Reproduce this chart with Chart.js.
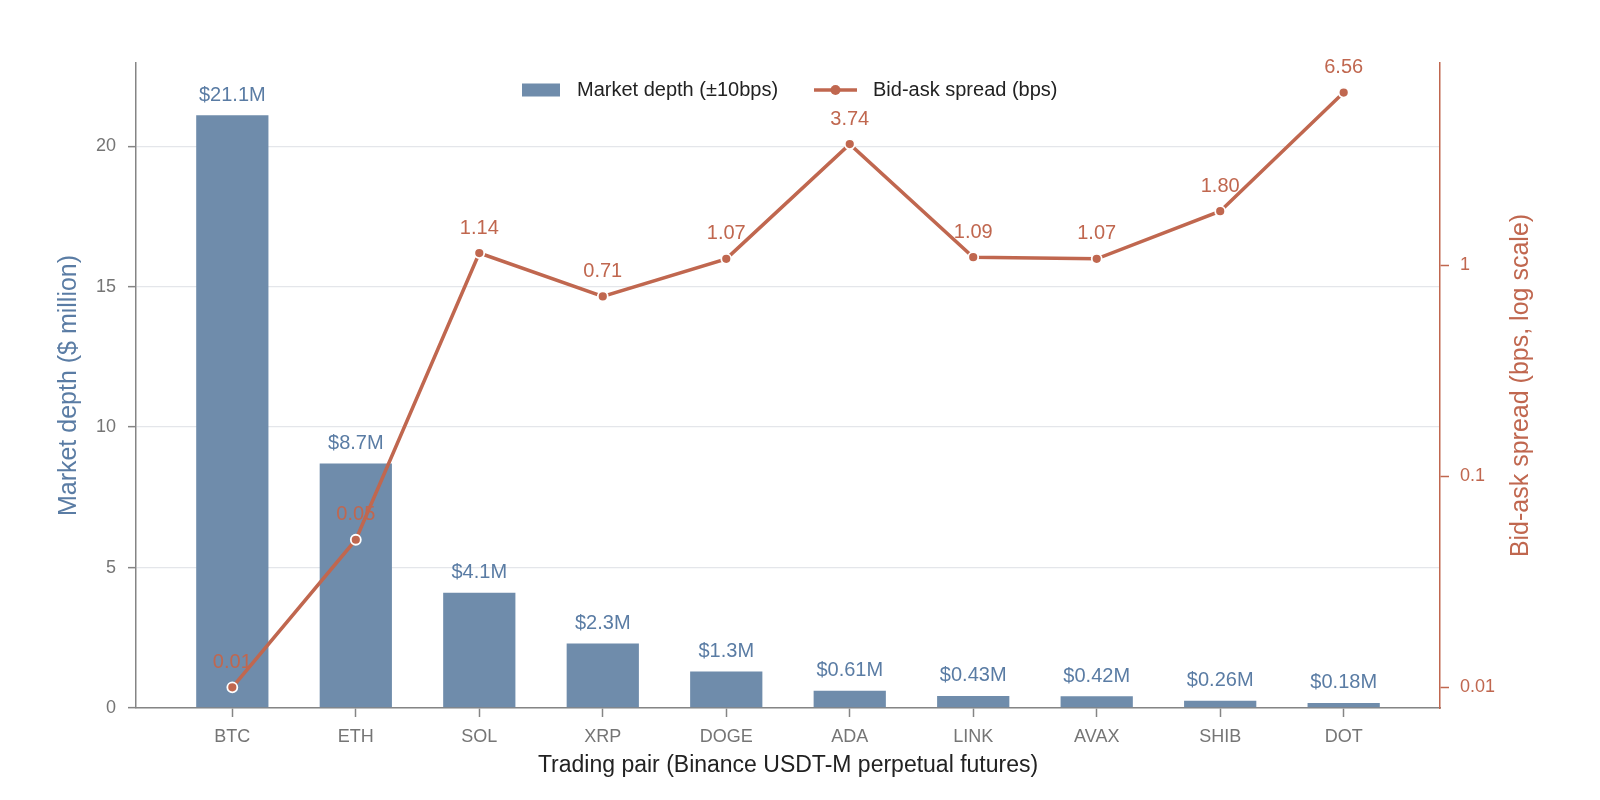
<!DOCTYPE html>
<html>
<head>
<meta charset="utf-8">
<script src="https://cdn.jsdelivr.net/npm/chart.js@4.4.1/dist/chart.umd.min.js"></script>
<style>
  html, body { margin: 0; padding: 0; background: #ffffff; }
  #wrap { width: 1600px; height: 800px; }
</style>
</head>
<body>
<div id="wrap"><canvas id="c" width="1600" height="800"></canvas></div>
<script>
// ---- data ----
const pairs = ['BTC', 'ETH', 'SOL', 'XRP', 'DOGE', 'ADA', 'LINK', 'AVAX', 'SHIB', 'DOT'];
const depthMillions = [21.1, 8.7, 4.1, 2.3, 1.3, 0.61, 0.43, 0.42, 0.26, 0.18];
const spreadBps = [0.01, 0.05, 1.14, 0.71, 1.07, 3.74, 1.09, 1.07, 1.80, 6.56];
const depthTicks = [0, 5, 10, 15, 20];
const spreadTicks = [0.01, 0.1, 1];
const depthLabel = 'Market depth (\u00B110bps)';
const spreadLabel = 'Bid-ask spread (bps)';
const xTitle = 'Trading pair (Binance USDT-M perpetual futures)';
const yTitle = 'Market depth ($ million)';
const y1Title = 'Bid-ask spread (bps, log scale)';

// ---- style ----
const FONT = "'Liberation Sans', Arial, Helvetica, sans-serif";
const BAR_COLOR = '#6f8cab';
const BAR_TEXT = '#5a7ca4';
const LINE_COLOR = '#c0674f';
const AXIS_GREY = '#858585';
const TICK_TEXT = '#757575';

Chart.defaults.font.family = FONT;

const fmtDepth = v => '$' + (v >= 1 ? v.toFixed(1) : v.toFixed(2)) + 'M';
const fmtSpread = v => v.toFixed(2);

const labelsPlugin = {
  id: 'valueLabels',
  beforeDatasetDraw(chart, args) {
    const ds = chart.data.datasets[args.index];
    if (ds.type !== 'line') return;
    const ctx = chart.ctx;
    ctx.save();
    ctx.textAlign = 'center';
    ctx.textBaseline = 'middle';
    ctx.font = '20px ' + FONT;
    const barMeta = chart.getDatasetMeta(1);
    barMeta.data.forEach((el, i) => {
      ctx.fillStyle = BAR_TEXT;
      ctx.fillText(fmtDepth(depthMillions[i]), el.x, el.y - 20);
    });
    const lineMeta = chart.getDatasetMeta(0);
    lineMeta.data.forEach((el, i) => {
      ctx.fillStyle = LINE_COLOR;
      ctx.fillText(fmtSpread(spreadBps[i]), el.x, el.y - 25);
    });
    ctx.restore();
  }
};

const decorPlugin = {
  id: 'decor',
  afterDraw(chart) {
    const ctx = chart.ctx;
    const a = chart.chartArea;
    ctx.save();
    ctx.textBaseline = 'middle';
    ctx.textAlign = 'left';
    ctx.font = '20px ' + FONT;
    const ly = 90;
    ctx.fillStyle = BAR_COLOR;
    ctx.fillRect(522, ly - 6.5, 38, 13);
    ctx.fillStyle = '#222222';
    ctx.fillText(depthLabel, 577, ly);
    ctx.strokeStyle = LINE_COLOR;
    ctx.lineWidth = 3.5;
    ctx.beginPath();
    ctx.moveTo(814, ly);
    ctx.lineTo(857, ly);
    ctx.stroke();
    ctx.fillStyle = LINE_COLOR;
    ctx.beginPath();
    ctx.arc(835.5, ly, 5, 0, Math.PI * 2);
    ctx.fill();
    ctx.fillStyle = '#222222';
    ctx.fillText(spreadLabel, 873, ly);

    ctx.textAlign = 'center';
    ctx.font = '23px ' + FONT;
    ctx.fillStyle = '#222222';
    ctx.fillText(xTitle, (a.left + a.right) / 2, 766);

    const cy = (a.top + a.bottom) / 2;
    ctx.font = '25px ' + FONT;
    ctx.save();
    ctx.translate(69, cy);
    ctx.rotate(-Math.PI / 2);
    ctx.fillStyle = BAR_TEXT;
    ctx.fillText(yTitle, 0, 0);
    ctx.restore();
    ctx.save();
    ctx.translate(1521, cy);
    ctx.rotate(-Math.PI / 2);
    ctx.fillStyle = LINE_COLOR;
    ctx.fillText(y1Title, 0, 0);
    ctx.restore();
    ctx.restore();
  }
};

new Chart(document.getElementById('c'), {
  type: 'bar',
  data: {
    datasets: [
      {
        type: 'line',
        label: spreadLabel,
        data: pairs.map((p, i) => ({ x: i, y: spreadBps[i] })),
        yAxisID: 'y1',
        xAxisID: 'x',
        borderColor: LINE_COLOR,
        backgroundColor: LINE_COLOR,
        borderWidth: 3.5,
        pointRadius: 5,
        pointBackgroundColor: LINE_COLOR,
        pointBorderColor: '#ffffff',
        pointBorderWidth: 1.8,
        tension: 0,
        order: 0
      },
      {
        type: 'bar',
        label: depthLabel,
        data: pairs.map((p, i) => ({ x: i, y: depthMillions[i] })),
        yAxisID: 'y',
        xAxisID: 'x',
        backgroundColor: BAR_COLOR,
        borderWidth: 0,
        barPercentage: 0.585,
        categoryPercentage: 1.0,
        order: 1
      }
    ]
  },
  options: {
    responsive: false,
    animation: false,
    devicePixelRatio: 1,
    layout: { padding: { top: 63, left: 0, right: 0, bottom: 0 } },
    plugins: {
      legend: { display: false },
      tooltip: { enabled: false },
      title: { display: false }
    },
    scales: {
      x: {
        type: 'linear',
        position: 'bottom',
        min: -0.78,
        max: 9.78,
        offset: false,
        z: 1,
        afterBuildTicks(axis) { axis.ticks = pairs.map((p, i) => ({ value: i })); },
        afterFit(axis) { axis.height = 92; },
        ticks: {
          callback: (v) => pairs[v] !== undefined ? pairs[v] : '',
          color: TICK_TEXT,
          font: { size: 18, family: FONT },
          padding: 9,
          maxRotation: 0,
          autoSkip: false
        },
        grid: { offset: false, drawOnChartArea: false, drawTicks: true, tickLength: 9, tickColor: AXIS_GREY, tickWidth: 1.5 },
        border: { display: true, color: AXIS_GREY, width: 1.5 }
      },
      y: {
        type: 'linear',
        position: 'left',
        min: 0,
        max: 22.96,
        afterBuildTicks(axis) { axis.ticks = depthTicks.map(v => ({ value: v })); },
        afterFit(axis) { axis.width = 136; },
        ticks: {
          color: TICK_TEXT,
          font: { size: 18, family: FONT },
          padding: 12
        },
        grid: { color: '#e4e6ea', lineWidth: 1.3, drawTicks: true, tickLength: 8, tickColor: AXIS_GREY, tickWidth: 1.5 },
        border: { display: true, color: AXIS_GREY, width: 1.5 }
      },
      y1: {
        type: 'logarithmic',
        position: 'right',
        min: 0.00798,
        max: 9.06,
        afterBuildTicks(axis) { axis.ticks = spreadTicks.map(v => ({ value: v })); },
        afterFit(axis) { axis.width = 160; },
        ticks: {
          callback: (v) => String(v),
          color: LINE_COLOR,
          font: { size: 18, family: FONT },
          padding: 11
        },
        grid: { drawOnChartArea: false, drawTicks: true, tickLength: 9, tickColor: LINE_COLOR, tickWidth: 1.5 },
        border: { display: true, color: LINE_COLOR, width: 1.5 }
      }
    }
  },
  plugins: [labelsPlugin, decorPlugin]
});
</script>
</body>
</html>
